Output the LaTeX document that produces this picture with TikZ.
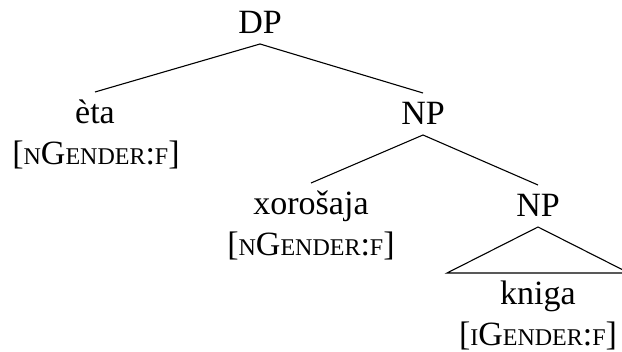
\documentclass[tikz,border=0pt]{standalone}
\usepackage{fontspec}
\setmainfont{Liberation Serif}
\usepackage{tikz}

\newcommand{\fsc}[1]{{\fontsize{24}{28}\selectfont\MakeUppercase{#1}}}
\newcommand{\gendf}[1]{[\fsc{#1}G\fsc{ender}:\fsc{f}]}

\begin{document}
\begin{tikzpicture}[x=1pt,y=1pt,
	cat/.style={anchor=base, inner sep=0pt, outer ysep=10pt, text height=22pt, text depth=0pt, font=\fontsize{34}{40}\selectfont},
	feat/.style={anchor=base, inner sep=0pt, font=\fontsize{34}{40}\selectfont},
	branch/.style={black, line width=1.1pt}]
	\useasboundingbox (0,0) rectangle (622,-352);
	% categories and words
	\node [cat] (dp) at (260,-34) {DP};
	\node [cat] (eta) at (95,-124) {èta};
	\node [feat] (etaf) at (96,-165) {\gendf{n}};
	\node [cat] (np1) at (423,-125) {NP};
	\node [cat] (xor) at (311,-215) {xorošaja};
	\node [feat] (xorf) at (311,-256) {\gendf{n}};
	\node [cat] (np2) at (538,-217) {NP};
	\node [cat] (kni) at (538,-305) {kniga};
	\node [feat] (knif) at (538,-346) {\gendf{i}};
	% triangle corners
	\coordinate (trl) at ([xshift=-91pt]kni.north);
	\coordinate (trr) at ([xshift=91pt]kni.north);
	% branches
	\draw [branch] (dp.south) -- (eta.north);
	\draw [branch] (dp.south) -- (np1.north);
	\draw [branch] (np1.south) -- (xor.north);
	\draw [branch] (np1.south) -- (np2.north);
	\draw [branch] (np2.south) -- (trl) -- (trr) -- cycle;
\end{tikzpicture}
\end{document}
